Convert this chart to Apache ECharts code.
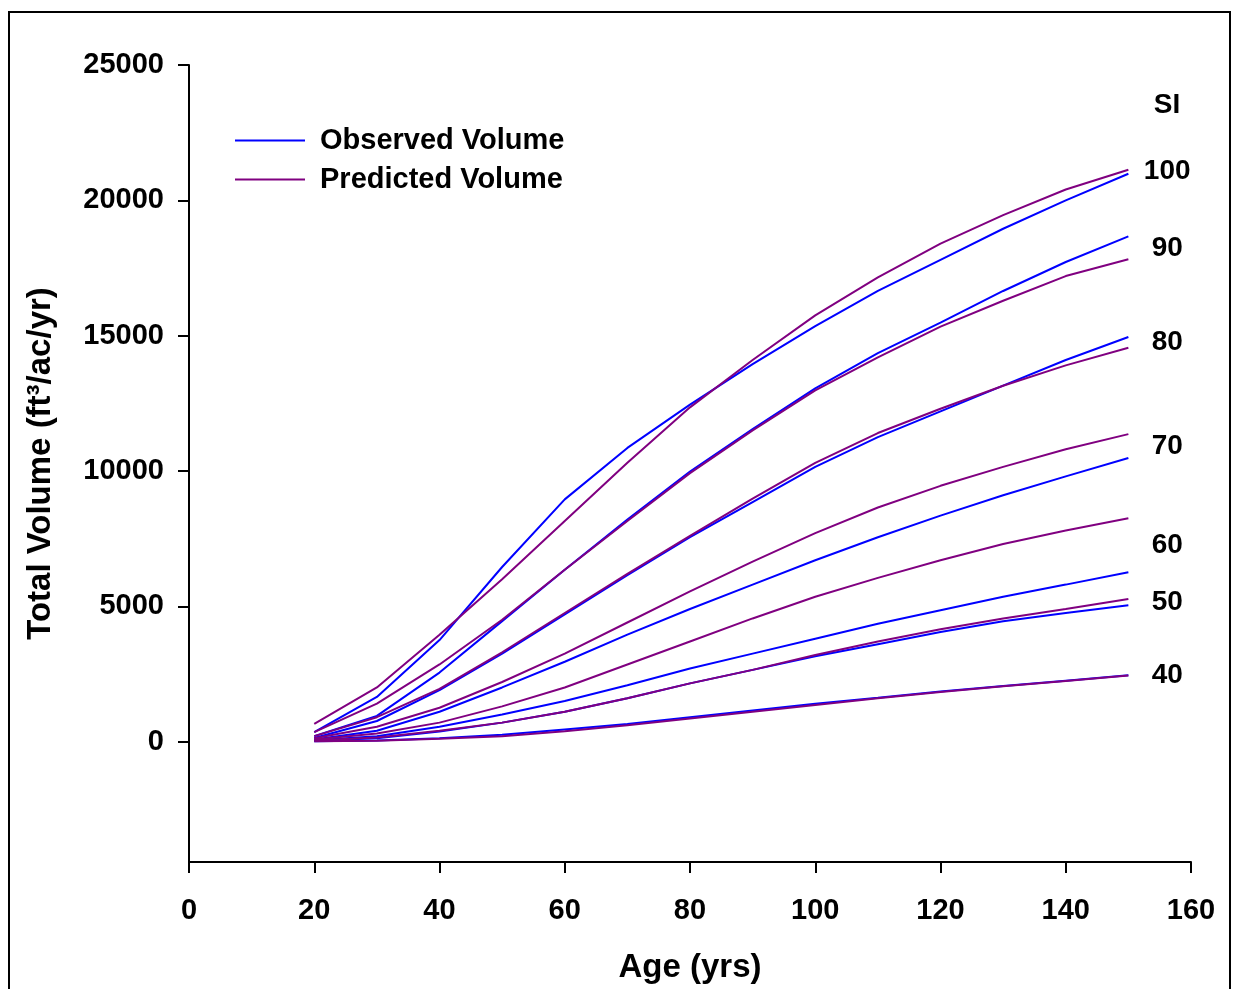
<!DOCTYPE html>
<html style="height: 100%">
<head>
    <meta charset="utf-8">
    <script src="https://cdn.jsdelivr.net/npm/echarts@6/dist/echarts.min.js"></script>
</head>
<body style="height: 100%; margin: 0; background: #fff">
    <div id="main" style="width:1233px; height:989px;"></div>
    <script type="text/javascript">
    // ages (yrs) and site index classes
    var ages = [20, 30, 40, 50, 60, 70, 80, 90, 100, 110, 120, 130, 140, 150];
    var siLevels = [100, 90, 80, 70, 60, 50, 40];

    // observed volume, one row per SI (same order as siLevels)
    var observed = [
        [350, 1650, 3750, 6450, 8950, 10850, 12450, 13950, 15350, 16650, 17800, 18950, 20000, 20980],
        [200, 950, 2550, 4450, 6350, 8200, 9980, 11550, 13050, 14350, 15480, 16650, 17720, 18670],
        [130, 760, 1900, 3250, 4700, 6150, 7550, 8850, 10150, 11250, 12200, 13150, 14100, 14950],
        [80, 400, 1100, 2000, 2950, 3950, 4900, 5800, 6700, 7550, 8350, 9100, 9800, 10480],
        [50, 200, 550, 1000, 1500, 2080, 2700, 3250, 3800, 4350, 4850, 5350, 5800, 6260],
        [30, 120, 370, 700, 1100, 1600, 2150, 2650, 3150, 3600, 4050, 4450, 4750, 5040],
        [10, 40, 120, 250, 450, 650, 900, 1150, 1400, 1620, 1850, 2050, 2250, 2450]
    ];

    // predicted volume, one row per SI
    var predicted = [
        [650, 2000, 3950, 6000, 8150, 10300, 12350, 14100, 15750, 17150, 18400, 19450, 20400, 21130],
        [350, 1400, 2850, 4500, 6350, 8150, 9920, 11500, 12980, 14200, 15330, 16290, 17200, 17820],
        [200, 900, 1950, 3300, 4750, 6200, 7600, 8980, 10300, 11400, 12300, 13150, 13900, 14550],
        [120, 550, 1250, 2200, 3250, 4400, 5550, 6650, 7700, 8650, 9450, 10150, 10800, 11360],
        [80, 300, 700, 1300, 2000, 2850, 3700, 4550, 5350, 6050, 6700, 7300, 7800, 8250],
        [40, 150, 400, 700, 1100, 1600, 2150, 2650, 3200, 3700, 4150, 4550, 4900, 5270],
        [10, 30, 100, 200, 380, 600, 850, 1100, 1350, 1600, 1830, 2040, 2240, 2440]
    ];

    var yTicks = [0, 5000, 10000, 15000, 20000, 25000];

    var font = 'Liberation Sans, Arial, sans-serif';
    var myChart = echarts.init(document.getElementById('main'));

    function pairs(vals) {
        return ages.map(function (a, i) { return [a, vals[i]]; });
    }

    var series = [];
    observed.forEach(function (row) {
        series.push({
            name: 'Observed Volume',
            type: 'line',
            data: pairs(row),
            symbol: 'none',
            lineStyle: { color: '#0000ff', width: 2 },
            itemStyle: { color: '#0000ff' }
        });
    });
    predicted.forEach(function (row) {
        series.push({
            name: 'Predicted Volume',
            type: 'line',
            data: pairs(row),
            symbol: 'none',
            lineStyle: { color: '#800080', width: 2 },
            itemStyle: { color: '#800080' }
        });
    });

    // SI labels placed beside the curve ends, midway between observed and predicted
    var last = ages.length - 1;
    series.push({
        type: 'scatter',
        symbolSize: 0,
        silent: true,
        itemStyle: { opacity: 1 },
        data: siLevels.map(function (si, i) {
            return { value: [156.2, (observed[i][last] + predicted[i][last]) / 2], si: si };
        }),
        label: {
            show: true,
            position: [0, 0],
            align: 'center',
            verticalAlign: 'middle',
            formatter: function (p) { return String(p.data.si); },
            color: '#000',
            opacity: 1,
            fontFamily: font,
            fontWeight: 'bold',
            fontSize: 28
        }
    });

    var option = {
        animation: false,
        backgroundColor: '#fff',
        grid: { left: 189, right: 42, top: 65, bottom: 123, containLabel: false },
        legend: {
            data: ['Observed Volume', 'Predicted Volume'],
            orient: 'vertical',
            left: 230,
            top: 121,
            itemWidth: 70,
            itemHeight: 14,
            itemGap: 10,
            icon: 'path://M0,6 L70,6 L70,8 L0,8 Z',
            textStyle: {
                fontFamily: font,
                fontWeight: 'bold',
                fontSize: 29,
                lineHeight: 28,
                color: '#000',
                padding: [0, 0, 0, 10]
            }
        },
        xAxis: {
            type: 'value',
            min: 0,
            max: 160,
            interval: 20,
            name: 'Age (yrs)',
            nameLocation: 'middle',
            nameGap: 89,
            nameTextStyle: { fontFamily: font, fontWeight: 'bold', fontSize: 33, color: '#000' },
            axisLine: { onZero: false, lineStyle: { color: '#000', width: 2 } },
            axisTick: { show: true, length: 11, lineStyle: { color: '#000', width: 2 } },
            axisLabel: { margin: 34, fontFamily: font, fontWeight: 'bold', fontSize: 29, color: '#000' },
            splitLine: { show: false }
        },
        yAxis: {
            type: 'value',
            min: -4450,
            max: 25000,
            name: 'Total Volume (ft³/ac/yr)',
            nameLocation: 'middle',
            nameRotate: 90,
            nameGap: 132,
            nameTextStyle: { fontFamily: font, fontWeight: 'bold', fontSize: 33, color: '#000' },
            axisLine: { show: true, lineStyle: { color: '#000', width: 2 } },
            axisTick: { show: true, length: 11, customValues: yTicks, lineStyle: { color: '#000', width: 2 } },
            axisLabel: {
                margin: 25,
                customValues: yTicks,
                formatter: function (v) { return String(v); },
                fontFamily: font,
                fontWeight: 'bold',
                fontSize: 29,
                color: '#000'
            },
            splitLine: { show: false }
        },
        graphic: [
            {
                type: 'rect',
                shape: { x: 9, y: 12, width: 1221, height: 1000 },
                style: { fill: 'none', stroke: '#000', lineWidth: 2 },
                silent: true
            },
            {
                type: 'text',
                x: 1167,
                y: 105,
                style: {
                    text: 'SI',
                    fontFamily: font,
                    fontWeight: 'bold',
                    fontSize: 28,
                    fill: '#000',
                    align: 'center',
                    verticalAlign: 'middle'
                }
            }
        ],
        series: series
    };

    myChart.setOption(option, true);
    </script>
</body>
</html>
